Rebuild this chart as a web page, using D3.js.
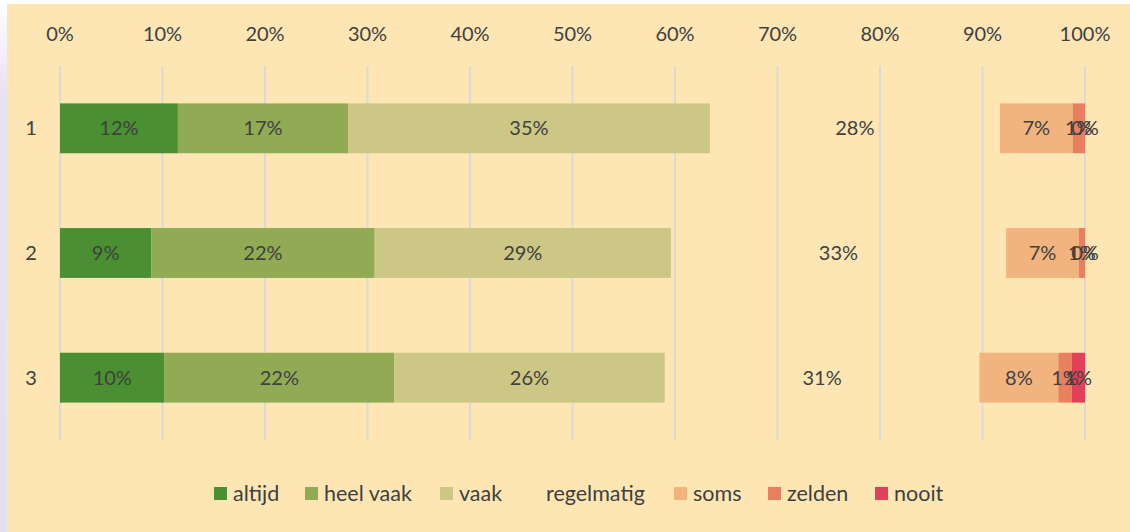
<!DOCTYPE html>
<html>
<head>
<meta charset="utf-8">
<script src="https://cdn.jsdelivr.net/npm/d3@7"></script>
<style>
  html, body { margin: 0; padding: 0; background: #ffffff; }
  svg { display: block; }
  text { font-family: Lato, "Open Sans", sans-serif; fill: #404040; }
</style>
</head>
<body>
<div id="chart"></div>
<script>
// data
const categories = ['1', '2', '3'];
const seriesNames = ['altijd', 'heel vaak', 'vaak', 'regelmatig', 'soms', 'zelden', 'nooit'];
const altijd     = [11.5, 8.9, 10.2];
const heelVaak   = [16.6, 21.8, 22.4];
const vaak       = [35.3, 28.9, 26.4];
const regelmatig = [28.3, 32.7, 30.7];
const soms       = [7.1, 7.1, 7.7];
const zelden     = [1.2, 0.6, 1.3];
const nooit      = [0.0, 0.0, 1.3];
const tickLabels = ['0%', '10%', '20%', '30%', '40%', '50%', '60%', '70%', '80%', '90%', '100%'];

const colors = ['#4a8f31', '#91aa54', '#cdc785', 'none', '#f2b47e', '#e8805f', '#e0405a'];

const W = 1130, H = 532;
const margin = { left: 60, right: 45, top: 66, bottom: 92 };
const fs = '20px';

// =============================================
const svg = d3.select('#chart')
  .append('svg')
  .attr('width', W)
  .attr('height', H);

// left edge strip
const grad = svg.append('defs').append('linearGradient')
  .attr('id', 'edge').attr('x1', 0).attr('x2', 0).attr('y1', 0).attr('y2', 1);
grad.append('stop').attr('offset', '0%').attr('stop-color', '#ffffff');
grad.append('stop').attr('offset', '18%').attr('stop-color', '#e6e2f1');
grad.append('stop').attr('offset', '100%').attr('stop-color', '#e4e0f0');
svg.append('rect').attr('x', 0).attr('y', 0).attr('width', 7).attr('height', H).attr('fill', 'url(#edge)');

// background
svg.append('rect')
  .attr('x', 7).attr('y', 4)
  .attr('width', W - 7).attr('height', H - 4)
  .attr('fill', '#fee6b4');

const x = d3.scaleLinear().domain([0, 100]).range([margin.left, W - margin.right]);
const y = d3.scaleBand().domain(categories).range([margin.top, H - margin.bottom]).paddingInner(0.6).paddingOuter(0.3);

// grid
svg.append('g')
  .selectAll('line')
  .data(d3.range(0, 101, 10))
  .join('line')
  .attr('x1', d => x(d)).attr('x2', d => x(d))
  .attr('y1', margin.top).attr('y2', H - margin.bottom)
  .attr('stroke', '#d9d9d9')
  .attr('stroke-width', 2);

// top axis labels
svg.append('g')
  .selectAll('text')
  .data(tickLabels)
  .join('text')
  .attr('x', (d, i) => x(i * 10))
  .attr('y', 41)
  .attr('text-anchor', 'middle')
  .style('font-size', fs)
  .text(d => d);

// category labels
svg.append('g')
  .selectAll('text')
  .data(categories)
  .join('text')
  .attr('x', 31)
  .attr('y', d => y(d) + y.bandwidth() / 2 + 7)
  .attr('text-anchor', 'middle')
  .style('font-size', fs)
  .text(d => d);

// stacked data
const table = categories.map((c, i) => ({
  cat: c,
  'altijd': altijd[i], 'heel vaak': heelVaak[i], 'vaak': vaak[i], 'regelmatig': regelmatig[i],
  'soms': soms[i], 'zelden': zelden[i], 'nooit': nooit[i]
}));
const stack = d3.stack().keys(seriesNames)(table);

const layers = svg.append('g')
  .selectAll('g')
  .data(stack)
  .join('g')
  .attr('fill', (d, i) => colors[i]);

layers.selectAll('rect')
  .data(d => d)
  .join('rect')
  .attr('x', d => x(d[0]))
  .attr('width', d => x(d[1]) - x(d[0]))
  .attr('y', d => y(d.data.cat))
  .attr('height', y.bandwidth());

// value labels (overlap at the right end, like the original)
const labels = svg.append('g');
stack.forEach(layer => {
  labels.selectAll(null)
    .data(layer)
    .enter()
    .append('text')
    .attr('x', d => (x(d[0]) + x(d[1])) / 2)
    .attr('y', d => y(d.data.cat) + y.bandwidth() / 2 + 7)
    .attr('text-anchor', 'middle')
    .style('font-size', fs)
    .text(d => Math.round(d[1] - d[0]) + '%');
});

// legend
const legendX = [214, 305, 440, 527, 674, 768, 875];
const legend = svg.append('g');
seriesNames.forEach((n, i) => {
  const lx = legendX[i];
  if (colors[i] !== 'none') {
    legend.append('rect')
      .attr('x', lx).attr('y', 487)
      .attr('width', 13).attr('height', 13)
      .attr('fill', colors[i]);
  }
  legend.append('text')
    .attr('x', lx + 19).attr('y', 501)
    .style('font-size', '21.5px')
    .text(n);
});
</script>
</body>
</html>
